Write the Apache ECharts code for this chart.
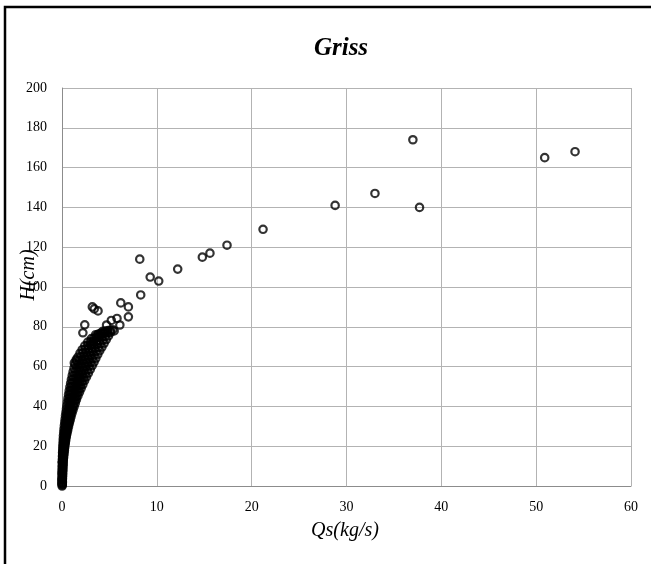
<!DOCTYPE html>
<html>
<head>
<meta charset="utf-8">
<script src="https://cdn.jsdelivr.net/npm/echarts@6/dist/echarts.min.js"></script>
<style>
html,body{margin:0;padding:0;background:#fff;}
#chart{width:651px;height:564px;}
</style>
</head>
<body>
<div id="chart"></div>
<script>
// ---- data ----
var chartTitle = 'Griss';
var xName = 'Qs(kg/s)';
var yName = 'H(cm)';
var xTicks = [0, 10, 20, 30, 40, 50, 60];
var yTicks = [0, 20, 40, 60, 80, 100, 120, 140, 160, 180, 200];

// isolated points (Qs, H)
var sparsePoints = [
  [8.2,114],[9.3,105],[10.2,103],[12.2,109],[14.8,115],[15.6,117],[17.4,121],
  [21.2,129],[28.8,141],[33.0,147],[37.0,174],[37.7,140],[50.9,165],[54.1,168],
  [8.3,96],[6.2,92],[7.0,90],[7.0,85],[3.2,90],[3.4,89],[3.8,88],[2.4,81],[2.2,77],
  [5.8,84.2],[5.2,83.2],[4.7,80.9],[6.1,80.9],[5.5,77.9],[4.1,76.9],[3.8,76.0],
  [3.25,71.8],[3.1,71.0],[1.5,63.5],[1.3,61.8]
];

// dense band of overlapping points near the origin (Qs, H)
var densePoints = [
  [0.01,0],[0.03,0.5],[0.02,1.2],
  [0.00,1.8],[0.04,2.3],[0.02,3.1],[0.05,3.6],[0.01,4.2],[0.06,4.9],[0.03,5.4],[0.07,6.0],
  [0.01,6.6],[0.05,7.1],[0.09,7.7],[0.02,8.3],[0.07,8.8],[0.10,9.4],[0.03,10.0],[0.08,10.6],[0.12,11.1],
  [0.02,11.7],[0.06,12.2],[0.13,12.8],[0.04,13.4],[0.10,13.9],[0.17,14.5],[0.05,15.0],[0.12,15.6],
  [0.21,16.1],[0.06,16.7],[0.15,17.2],[0.25,17.8],[0.08,18.4],[0.18,18.9],[0.29,19.5],[0.09,20.1],
  [0.21,20.6],[0.34,21.2],
  [0.11,21.8],[0.25,22.3],[0.39,22.9],[0.13,23.5],[0.29,24.0],[0.45,24.6],[0.15,25.2],[0.33,25.7],
  [0.52,26.3],[0.18,26.9],[0.38,27.4],[0.60,28.0],[0.21,28.6],[0.44,29.1],[0.68,29.7],[0.25,30.3],
  [0.50,30.8],[0.77,31.4],
  [0.29,31.9],[0.56,32.5],[0.86,33.1],[0.33,33.6],[0.62,34.2],[0.95,34.8],[0.37,35.3],[0.70,35.9],
  [1.05,36.5],[0.42,37.0],[0.78,37.6],[1.16,38.2],[0.47,38.7],[0.86,39.3],[1.28,39.9],[0.52,40.4],
  [0.94,41.0],[1.40,41.6],
  [0.57,42.1],[0.90,42.6],[1.22,43.0],[1.52,43.4],[0.63,44.0],[0.98,44.4],[1.33,44.8],[1.68,45.3],
  [0.69,45.9],[1.06,46.3],[1.45,46.8],[1.85,47.2],[0.76,47.8],[1.16,48.2],[1.58,48.7],[2.02,49.1],
  [0.83,49.7],[1.26,50.1],[1.72,50.6],[2.20,51.0],
  [0.91,51.6],[1.37,52.0],[1.86,52.5],[2.38,52.9],[0.99,53.5],[1.48,53.9],[2.01,54.4],[2.58,54.8],
  [1.08,55.4],[1.60,55.8],[2.16,56.3],[2.78,56.7],[1.17,57.3],[1.72,57.7],[2.32,58.2],[2.98,58.6],
  [1.27,59.2],[1.86,59.6],[2.49,60.1],[3.19,60.5],
  [1.38,61.0],[2.00,61.4],[2.66,61.9],[3.38,62.3],[1.52,62.9],[2.15,63.3],[2.83,63.8],[3.57,64.2],
  [1.68,64.8],[2.32,65.2],[3.01,65.7],[3.77,66.1],[1.90,66.7],[2.52,67.1],[3.21,67.6],[3.98,68.0],
  [2.13,68.5],[2.75,68.9],[3.43,69.4],[4.21,69.8],
  [2.40,70.4],[3.00,70.8],[3.66,71.3],[4.44,71.7],[2.72,72.3],[3.30,72.7],[3.92,73.1],[4.67,73.6],
  [3.10,74.1],[3.62,74.6],[4.20,75.0],[4.90,75.4],[3.55,76.0],[4.05,76.4],[4.55,76.8],[5.12,77.2],
  [4.30,77.7],[4.85,78.1],[5.35,78.5]
];

// more overlapping points filling the same band
var densePoints2 = [
  [0.02,0.9],[0.04,1.6],[0.03,2.7],[0.00,3.3],[0.04,4.5],[0.02,5.8],[0.05,6.3],[0.03,7.4],
  [0.06,8.0],[0.04,9.1],[0.06,9.8],[0.05,10.3],
  [0.09,11.4],[0.04,12.0],[0.09,12.5],[0.07,13.1],[0.14,13.7],[0.08,14.2],[0.11,14.8],[0.16,15.3],
  [0.09,15.9],[0.17,16.4],[0.11,17.0],[0.20,17.5],[0.13,18.1],[0.23,18.7],[0.14,19.2],[0.24,19.8],
  [0.15,20.4],[0.28,20.9],
  [0.18,21.5],[0.32,22.0],[0.20,22.6],[0.35,23.2],[0.22,23.8],[0.38,24.3],[0.25,24.9],[0.43,25.5],
  [0.27,26.0],[0.47,26.6],[0.30,27.2],[0.52,27.7],[0.33,28.3],[0.56,28.9],[0.36,29.4],[0.60,30.0],
  [0.40,30.6],[0.65,31.1],
  [0.44,31.7],[0.72,32.2],[0.48,32.8],[0.76,33.4],[0.52,33.9],[0.82,34.5],[0.56,35.0],[0.88,35.6],
  [0.60,36.2],[0.94,36.8],[0.65,37.3],[1.00,37.9],[0.70,38.5],[1.08,39.0],[0.75,39.6],[1.15,40.2],
  [0.80,40.7],[1.20,41.3],
  [0.74,42.4],[1.06,42.8],[1.38,43.2],[0.80,44.2],[1.15,44.6],[1.50,45.0],[0.87,46.1],[1.25,46.5],
  [1.65,47.0],[0.95,48.0],[1.37,48.5],[1.80,48.9],[1.04,49.9],[1.49,50.4],[1.96,50.8],
  [1.14,51.8],[1.61,52.2],[2.12,52.7],[1.23,53.7],[1.74,54.1],[2.30,54.6],[1.34,55.6],[1.88,56.0],
  [2.47,56.5],[1.44,57.5],[2.02,57.9],[2.65,58.4],[1.56,59.4],[2.17,59.8],[2.84,60.3],
  [1.69,61.2],[2.33,61.6],[3.02,62.1],[1.83,63.1],[2.49,63.5],[3.20,64.0],[2.00,65.0],[2.66,65.4],
  [3.39,65.9],[2.21,66.9],[2.86,67.3],[3.59,67.8],[2.44,68.7],[3.09,69.1],[3.82,69.6],
  [2.70,70.6],[3.33,71.0],[4.05,71.5],[3.01,72.5],[3.61,72.9],[4.30,73.3],[3.36,74.3],[3.91,74.8],
  [4.55,75.2],[3.80,76.2],[4.30,76.6],[4.83,77.0],[4.58,77.9],[5.10,78.3]
];

var serif = '"Liberation Serif","Times New Roman",serif';
var gridColor = '#b3b3b3';

var chart = echarts.init(document.getElementById('chart'), null, {renderer: 'canvas'});
var markerStyle = {color: 'rgba(0,0,0,0)', borderColor: '#000', borderWidth: 2.2};
function scatter(d) {
  return {type: 'scatter', data: d, symbol: 'circle', symbolSize: 7.4, itemStyle: markerStyle,
          emphasis: {disabled: true}, silent: true, large: false};
}

chart.setOption({
  animation: false,
  backgroundColor: '#fff',
  grid: {left: 62, top: 88, width: 569, height: 398, containLabel: false},
  xAxis: {
    type: 'value',
    min: xTicks[0], max: xTicks[xTicks.length - 1], interval: xTicks[1] - xTicks[0],
    axisLine: {show: true, lineStyle: {color: '#8c8c8c', width: 1}},
    axisTick: {show: false},
    axisLabel: {color: '#000', fontFamily: serif, fontSize: 14, margin: 14},
    splitLine: {show: true, lineStyle: {color: gridColor, width: 1}}
  },
  yAxis: {
    type: 'value',
    min: yTicks[0], max: yTicks[yTicks.length - 1], interval: yTicks[1] - yTicks[0],
    axisLine: {show: true, lineStyle: {color: '#8c8c8c', width: 1}},
    axisTick: {show: false},
    axisLabel: {color: '#000', fontFamily: serif, fontSize: 14, margin: 15},
    splitLine: {show: true, lineStyle: {color: gridColor, width: 1}}
  },
  series: [scatter(densePoints), scatter(densePoints2), scatter(sparsePoints)],
  graphic: [
    {type: 'rect', silent: true, shape: {x: 5, y: 7, width: 700, height: 620},
     style: {fill: 'none', stroke: '#000', lineWidth: 2.5}},
    {type: 'text', silent: true, x: 341, y: 49,
     style: {text: chartTitle, font: 'italic bold 25px ' + serif, fill: '#000', textAlign: 'center', textVerticalAlign: 'middle'}},
    {type: 'text', silent: true, x: 345, y: 531,
     style: {text: xName, font: 'italic 20px ' + serif, fill: '#000', textAlign: 'center', textVerticalAlign: 'middle'}},
    {type: 'text', silent: true, x: 29, y: 275, rotation: Math.PI / 2, z: 100,
     style: {text: yName, font: 'italic 20px ' + serif, fill: '#000', textAlign: 'center', textVerticalAlign: 'middle'}}
  ]
});
</script>
</body>
</html>
